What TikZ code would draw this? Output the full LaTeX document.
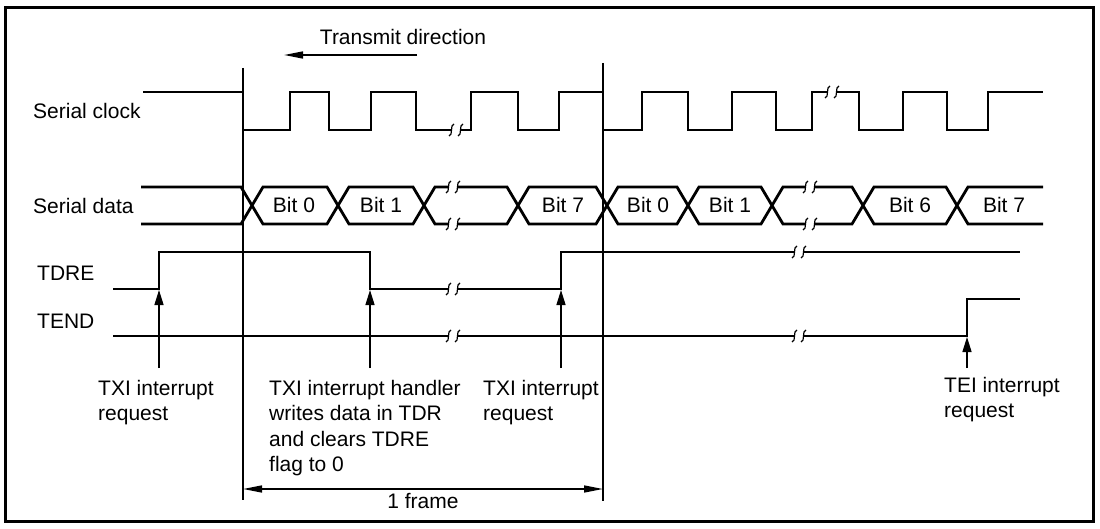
\documentclass[tikz,border=0pt]{standalone}
\usepackage{fontspec}
\setmainfont{Liberation Sans}
\usetikzlibrary{arrows.meta}
\newcommand\brkmark[2]{%
  \foreach \d in {-4.5,4.5}{%
    \draw[brkline] ({#1+\d-2.5},{#2+6}) .. controls ({#1+\d+1.8},{#2+6}) and ({#1+\d-1.8},{#2-6}) .. ({#1+\d+2.5},{#2-6});}}
\begin{document}
\begin{tikzpicture}[x=1pt,y=-1pt,
  wave/.style={line width=2.8pt,line join=miter,line cap=butt},
  thinline/.style={line width=1.4pt},
  brkline/.style={line width=1.2pt},
  arr/.style={line width=1.4pt,-{Triangle[length=15pt,width=9pt]}},
  dimarr/.style={line width=1.4pt,{Triangle[length=19pt,width=7pt]}-{Triangle[length=19pt,width=7pt]}},
  lbl/.style={inner sep=0pt,font=\fontsize{21}{25.5}\selectfont},
  mlbl/.style={lbl,align=left,anchor=base west}]
\useasboundingbox (0,0) rectangle (1100,529);
\draw[line width=3pt] (5,8) rectangle (1093,521);
% labels
\node[lbl,anchor=base west] (lclk) at (33,119) {Serial clock};
\node[lbl,anchor=base west] (ldat) at (33,214) {Serial data};
\node[lbl,anchor=base west] (ltdre) at (37,280) {TDRE};
\node[lbl,anchor=base west] (ltend) at (37,328) {TEND};
% frame verticals
\coordinate (fl1) at (243,68); \coordinate (fl2) at (243,500);
\coordinate (fr1) at (603,63); \coordinate (fr2) at (603,501);
\draw[thinline] (fl1) -- (fl2);
\draw[thinline] (fr1) -- (fr2);
% transmit direction
\node[lbl,anchor=base] (ltx) at (403,45) {Transmit direction};
\coordinate (tx1) at (417,55); \coordinate (tx2) at (284,55);
\draw[line width=1.4pt,-{Triangle[length=19pt,width=7pt]}] (tx1) -- (tx2);
% clock
\draw[wave] (143,92) -- (243,92) -- (243,130) -- (290,130) -- (290,92) -- (329,92) -- (329,130) -- (371,130) -- (371,92) -- (416,92) -- (416,130) -- (451.5,130);
\brkmark{456}{130}
\draw[wave] (460.5,130) -- (471,130) -- (471,92) -- (518,92) -- (518,130) -- (559,130) -- (559,92) -- (603,92) -- (603,130) -- (642,130) -- (642,92) -- (688,92) -- (688,130) -- (732,130) -- (732,92) -- (776,92) -- (776,130) -- (812,130) -- (812,92) -- (827.5,92);
\brkmark{832}{92}
\draw[wave] (836.5,92) -- (859,92) -- (859,130) -- (903,130) -- (903,92) -- (947,92) -- (947,130) -- (988,130) -- (988,92) -- (1043,92);
% data
\draw[wave] (141,187) -- (241,187) -- (263,224) -- (327,224) -- (349,187) -- (413,187) -- (435,224) -- (448.5,224);
\draw[wave] (141,224) -- (241,224) -- (263,187) -- (327,187) -- (349,224) -- (413,224) -- (435,187) -- (448.5,187);
\brkmark{453}{187}
\brkmark{453}{224}
\draw[wave] (457.5,224) -- (507,224) -- (529,187) -- (596,187) -- (618,224) -- (677,224) -- (699,187) -- (761,187) -- (783,224) -- (805.5,224);
\draw[wave] (457.5,187) -- (507,187) -- (529,224) -- (596,224) -- (618,187) -- (677,187) -- (699,224) -- (761,224) -- (783,187) -- (805.5,187);
\brkmark{810}{187}
\brkmark{810}{224}
\draw[wave] (814.5,224) -- (852,224) -- (874,187) -- (946,187) -- (968,224) -- (1043,224);
\draw[wave] (814.5,187) -- (852,187) -- (874,224) -- (946,224) -- (968,187) -- (1043,187);
\node[lbl,anchor=base] (b1) at (294,213) {Bit 0};
\node[lbl,anchor=base] (b2) at (381,213) {Bit 1};
\node[lbl,anchor=base] (b3) at (563,213) {Bit 7};
\node[lbl,anchor=base] (b4) at (648,213) {Bit 0};
\node[lbl,anchor=base] (b5) at (730,213) {Bit 1};
\node[lbl,anchor=base] (b6) at (910,213) {Bit 6};
\node[lbl,anchor=base] (b7) at (1004,213) {Bit 7};
% TDRE
\draw[wave] (113,289) -- (159,289) -- (159,252) -- (370,252) -- (370,289) -- (448.5,289);
\brkmark{453}{289}
\draw[wave] (457.5,289) -- (561,289) -- (561,252) -- (794.5,252);
\brkmark{799}{252}
\draw[wave] (803.5,252) -- (1020,252);
% TEND
\draw[wave] (113,336) -- (448.5,336);
\brkmark{453}{336}
\draw[wave] (457.5,336) -- (794.5,336);
\brkmark{799}{336}
\draw[wave] (803.5,336) -- (967,336) -- (967,299) -- (1020,299);
% arrows
\coordinate (a1s) at (159,368); \coordinate (a1e) at (159,290);
\coordinate (a2s) at (370,368); \coordinate (a2e) at (370,290);
\coordinate (a3s) at (561,368); \coordinate (a3e) at (561,290);
\coordinate (a4s) at (967,368); \coordinate (a4e) at (967,337);
\draw[arr] (a1s) -- (a1e);
\draw[arr] (a2s) -- (a2e);
\draw[arr] (a3s) -- (a3e);
\draw[arr] (a4s) -- (a4e);
% bottom labels (base anchor = baseline of last line)
\node[mlbl] (t1) at (98,420.5) {TXI interrupt\\request};
\node[mlbl] (t2) at (269,471.5) {TXI interrupt handler\\writes data in TDR\\and clears TDRE\\flag to 0};
\node[mlbl] (t3) at (483,420.5) {TXI interrupt\\request};
\node[mlbl] (t4) at (944,417.5) {TEI interrupt\\request};
% 1 frame
\coordinate (d1) at (243,489); \coordinate (d2) at (603,489);
\draw[dimarr] (d1) -- (d2);
\node[lbl,anchor=base] (lfr) at (423,508) {1 frame};
\end{tikzpicture}
\end{document}
